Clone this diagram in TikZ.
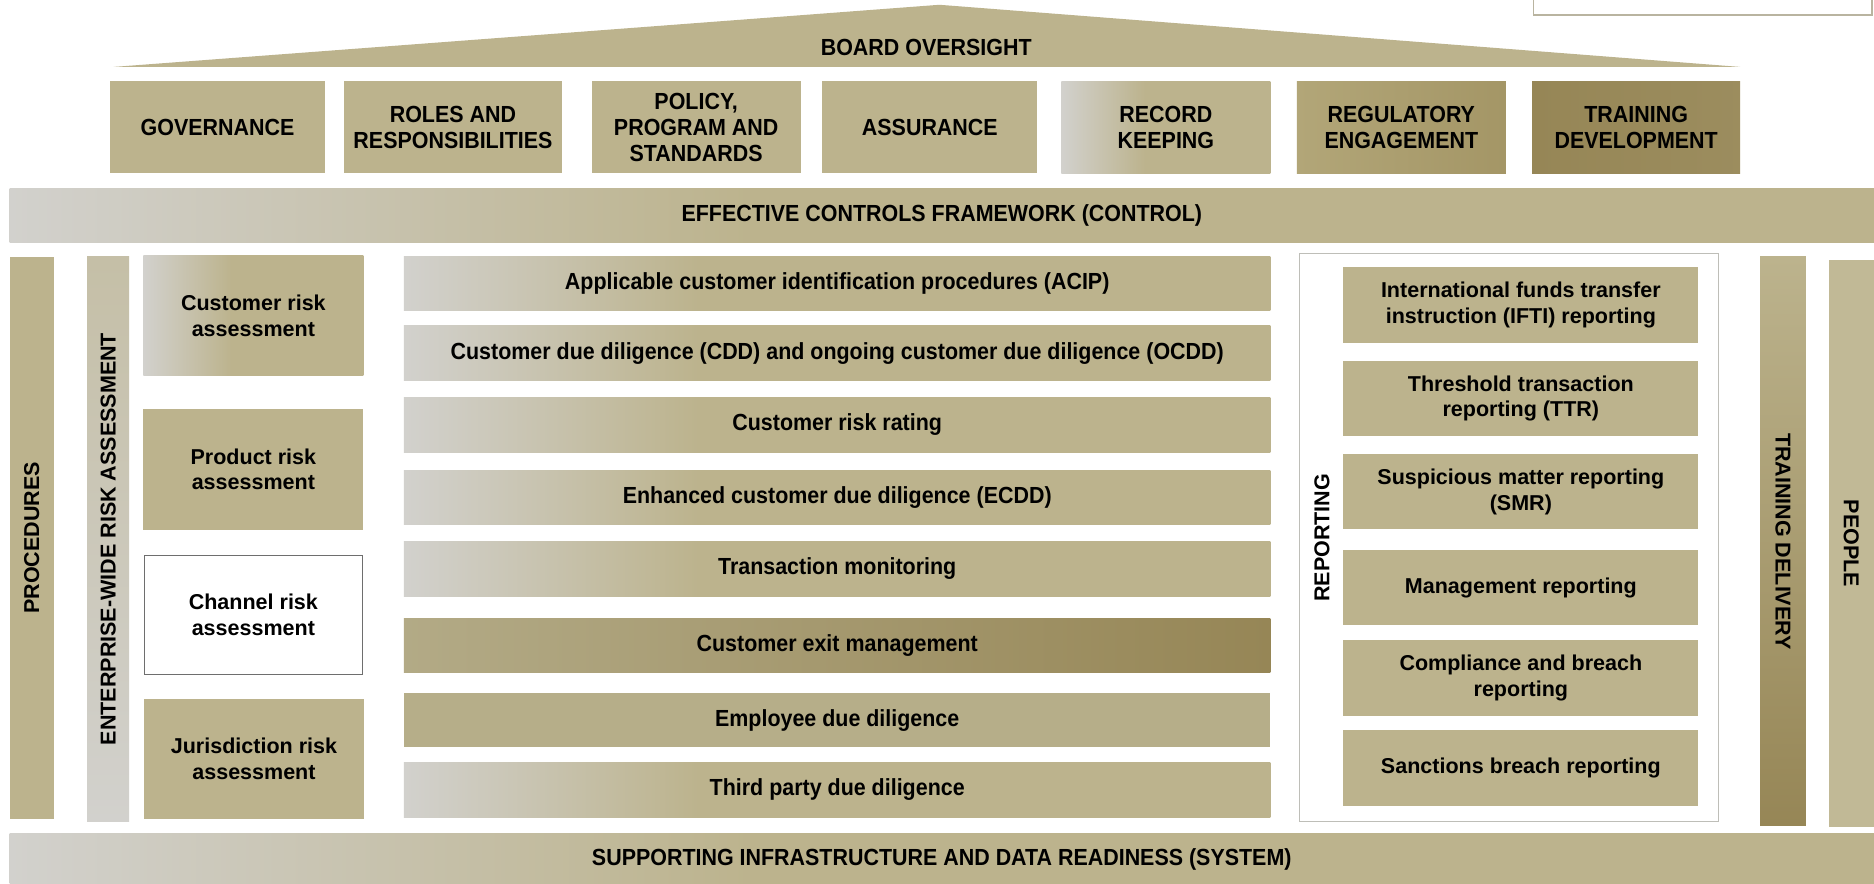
\documentclass[tikz,border=0pt]{standalone}
\usepackage{graphicx}
\usepackage{fontspec}
\setmainfont{Liberation Sans}
\newfontfamily\narf{Liberation Sans}[FakeStretch=0.92]
\definecolor{tanc}{RGB}{188,179,141}
\definecolor{silv}{RGB}{210,209,205}
\definecolor{tdark}{RGB}{150,134,86}
\definecolor{tmid}{RGB}{178,166,120}
\definecolor{tmid2}{RGB}{164,150,102}
\definecolor{frameg}{RGB}{190,190,184}
\definecolor{edgeg}{RGB}{110,110,110}
\definecolor{topb}{RGB}{185,180,160}
\pgfdeclarehorizontalshading{gt}{100bp}{color(0bp)=(silv); color(25bp)=(silv); color(42bp)=(tanc); color(100bp)=(tanc)}
\pgfdeclarehorizontalshading{gtwide}{100bp}{color(0bp)=(silv); color(25bp)=(silv); color(45bp)=(tanc); color(100bp)=(tanc)}
\begin{document}
\begin{tikzpicture}[x=1pt,y=-1pt,
  base/.style={inner sep=0pt,outer sep=0pt,align=center,text=black},
  capn/.style={base,font=\narf\bfseries\fontsize{19.5}{21.5}\selectfont},
  txtw/.style={base,font=\bfseries\fontsize{18}{21.5}\selectfont},
  sz/.style 2 args={minimum width=#1pt,minimum height=#2pt},
  tanbox/.style={fill=tanc},
  gtbox/.style={shading=gt},
]
\useasboundingbox (0,0) rectangle (1568,739);
\fill[white] (0,0) rectangle (1568,739);

% top-right partial box
\node[base,draw=topb,line width=1.5pt,fill=white,sz={283}{22}] (topbox) at (1424.5,1.5) {};

% roof
\path[fill=tanc] (95,56) -- (786,4) -- (1456,56) -- cycle;
\node[capn] (board) at (775,40) {BOARD OVERSIGHT};

% top row
\node[capn,tanbox,sz={180}{77}] (gov) at (182,106.5) {GOVERNANCE};
\node[capn,tanbox,sz={182}{77}] (roles) at (379,106.5) {ROLES AND\\RESPONSIBILITIES};
\node[capn,tanbox,sz={175}{77}] (policy) at (582.5,106.5) {POLICY,\\PROGRAM AND\\STANDARDS};
\node[capn,tanbox,sz={180}{77}] (assur) at (778,106.5) {ASSURANCE};
\node[capn,shading=gtwide,sz={175}{77}] (record) at (975.5,106.5) {RECORD\\KEEPING};
\node[capn,left color=tmid,right color=tmid2,sz={175}{77}] (reg) at (1172.5,106.5) {REGULATORY\\ENGAGEMENT};
\node[capn,left color=tdark,right color=tdark!85!tanc,sz={174}{77}] (tdev) at (1369,106.5) {TRAINING\\DEVELOPMENT};

% control band
\node[capn,shading=gtwide,sz={1560}{45}] (ctrl) at (788,180.5) {EFFECTIVE CONTROLS FRAMEWORK (CONTROL)};

% left verticals
\node[txtw,tanbox,sz={37}{470}] (proc) at (26.5,450) {\rotatebox{90}{PROCEDURES}};
\node[txtw,top color=tanc!60!silv,bottom color=silv,sz={35}{472}] (ewra) at (90.5,451) {\rotatebox{90}{ENTERPRISE-WIDE RISK ASSESSMENT}};

% risk assessments
\node[txtw,shading=gtwide,sz={184}{101}] (cra) at (212,264) {Customer risk\\assessment};
\node[txtw,tanbox,sz={184}{101}] (pra) at (212,392.75) {Product risk\\assessment};
\node[txtw,fill=white,draw=edgeg,line width=0.8pt,sz={183}{99.5}] (chra) at (212,514.25) {Channel risk\\assessment};
\node[txtw,tanbox,sz={184}{100}] (jra) at (212.5,635) {Jurisdiction risk\\assessment};

% middle bars
\node[capn,gtbox,sz={725}{45.5}] (acip) at (700.5,237) {Applicable customer identification procedures (ACIP)};
\node[capn,gtbox,sz={725}{45.5}] (cdd) at (700.5,295.5) {Customer due diligence (CDD) and ongoing customer due diligence (OCDD)};
\node[capn,gtbox,sz={725}{45.5}] (crr) at (700.5,355.5) {Customer risk rating};
\node[capn,gtbox,sz={725}{45.5}] (ecdd) at (700.5,416) {Enhanced customer due diligence (ECDD)};
\node[capn,gtbox,sz={725}{45.5}] (tm) at (700.5,476) {Transaction monitoring};
\node[capn,left color=tanc!95!black,right color=tdark,sz={725}{45.5}] (exit) at (700.5,540) {Customer exit management};
\node[capn,fill=tanc!97!black,sz={725}{45.5}] (edd) at (700.5,602.5) {Employee due diligence};
\node[capn,gtbox,sz={725}{45.5}] (tpdd) at (700.5,661) {Third party due diligence};

% reporting
\node[base,fill=white,draw=frameg,line width=0.8pt,sz={350.6}{474.5}] (rframe) at (1262.3,449.75) {};
\node[txtw] (rep) at (1106,450) {\rotatebox{90}{REPORTING}};
\node[txtw,tanbox,sz={297}{63}] (ifti) at (1272.5,255.2) {International funds transfer\\instruction (IFTI) reporting};
\node[txtw,tanbox,sz={297}{63}] (ttr) at (1272.5,333.4) {Threshold transaction\\reporting (TTR)};
\node[txtw,tanbox,sz={297}{63}] (smr) at (1272.5,411.4) {Suspicious matter reporting\\(SMR)};
\node[txtw,tanbox,sz={297}{63}] (mgmt) at (1272.5,491.8) {Management reporting};
\node[txtw,tanbox,sz={297}{64}] (comp) at (1272.5,567.3) {Compliance and breach\\reporting};
\node[txtw,tanbox,sz={297}{63}] (sanc) at (1272.5,642.6) {Sanctions breach reporting};

% right verticals
\node[txtw,top color=tanc,bottom color=tdark,sz={38.4}{476}] (tdel) at (1491.8,453) {\rotatebox{-90}{TRAINING DELIVERY}};
\node[txtw,fill=tanc!92!white,sz={38}{474.5}] (people) at (1549,454.75) {\rotatebox{-90}{PEOPLE}};

% system band
\node[capn,shading=gtwide,sz={1560}{44}] (sys) at (788,719) {SUPPORTING INFRASTRUCTURE AND DATA READINESS (SYSTEM)};
\end{tikzpicture}
\end{document}
